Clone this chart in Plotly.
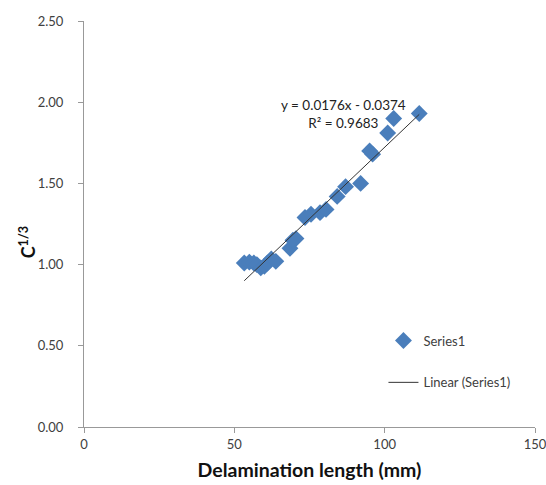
import plotly.graph_objects as go

# Measured delamination lengths (mm) and corresponding compliance^(1/3)
delam_length = [53.3, 55.0, 56.5, 57.5, 58.8, 60.0, 61.0, 62.3, 63.8,
                68.5, 69.5, 70.5, 73.5, 75.5, 78.5, 80.5, 84.2, 87.0,
                92.0, 95.0, 96.0, 101.0, 103.0, 111.5]
c_cuberoot = [1.01, 1.015, 1.01, 1.00, 0.98, 0.99, 1.01, 1.035, 1.02,
              1.10, 1.15, 1.16, 1.29, 1.31, 1.32, 1.34, 1.42, 1.48,
              1.50, 1.70, 1.68, 1.81, 1.90, 1.93]

# Linear trendline coefficients
slope = 0.0176
intercept = -0.0374
r_squared = 0.9683

x_ticks = [0, 50, 100, 150]

x_fit = [min(delam_length), max(delam_length)]
y_fit = [slope * v + intercept for v in x_fit]

font_family = "Lato, 'Open Sans', sans-serif"

fig = go.Figure()
fig.add_trace(go.Scatter(
    x=delam_length, y=c_cuberoot, mode="markers", name="Series1",
    legendgroup="a",
    marker=dict(symbol="diamond", size=13, color="#4A7EBB"),
))
fig.add_trace(go.Scatter(
    x=x_fit, y=y_fit, mode="lines", name="Linear (Series1)",
    legendgroup="b",
    line=dict(color="#333333", width=1),
))

# Trendline equation
fig.add_annotation(
    x=0.575, y=0.723, xref="paper", yref="paper", xanchor="center", yanchor="bottom",
    text=f"y = {slope}x - {abs(intercept)}<br>R² = {r_squared}",
    showarrow=False, align="center",
    font=dict(family=font_family, size=13.5, color="#222222"),
)

# Y axis title
fig.add_annotation(
    x=-0.124, y=0.455, xref="paper", yref="paper", xanchor="center", yanchor="middle",
    text="<b>C<sup>1/3</sup></b>", textangle=-90, showarrow=False,
    font=dict(family=font_family, size=18, color="#111111"),
)

fig.update_layout(
    width=546, height=485,
    margin=dict(l=84, r=11, t=21, b=58),
    paper_bgcolor="white", plot_bgcolor="white",
    font=dict(family=font_family, size=13, color="#404040"),
    showlegend=True,
    legend=dict(x=0.664, y=0.25, xanchor="left", yanchor="top",
                bgcolor="rgba(0,0,0,0)", borderwidth=0, tracegroupgap=22,
                font=dict(family=font_family, size=13, color="#404040")),
    xaxis=dict(
        range=[0, 150], tickvals=x_ticks, ticks="outside", ticklen=5,
        tickcolor="#999999", showline=True, linecolor="#999999", linewidth=1,
        showgrid=False, zeroline=False, automargin=False,
        ticklabeloverflow="allow",
        title=dict(text="<b>Delamination length (mm)</b>", standoff=12,
                   font=dict(family=font_family, size=19.5, color="#111111")),
    ),
    yaxis=dict(
        range=[0, 2.5], dtick=0.5, tickformat=".2f", ticks="outside", ticklen=5,
        tickcolor="#999999", showline=True, linecolor="#999999", linewidth=1,
        showgrid=False, zeroline=False, automargin=False, ticklabelstandoff=12,
    ),
)

fig.write_html("out.html")
